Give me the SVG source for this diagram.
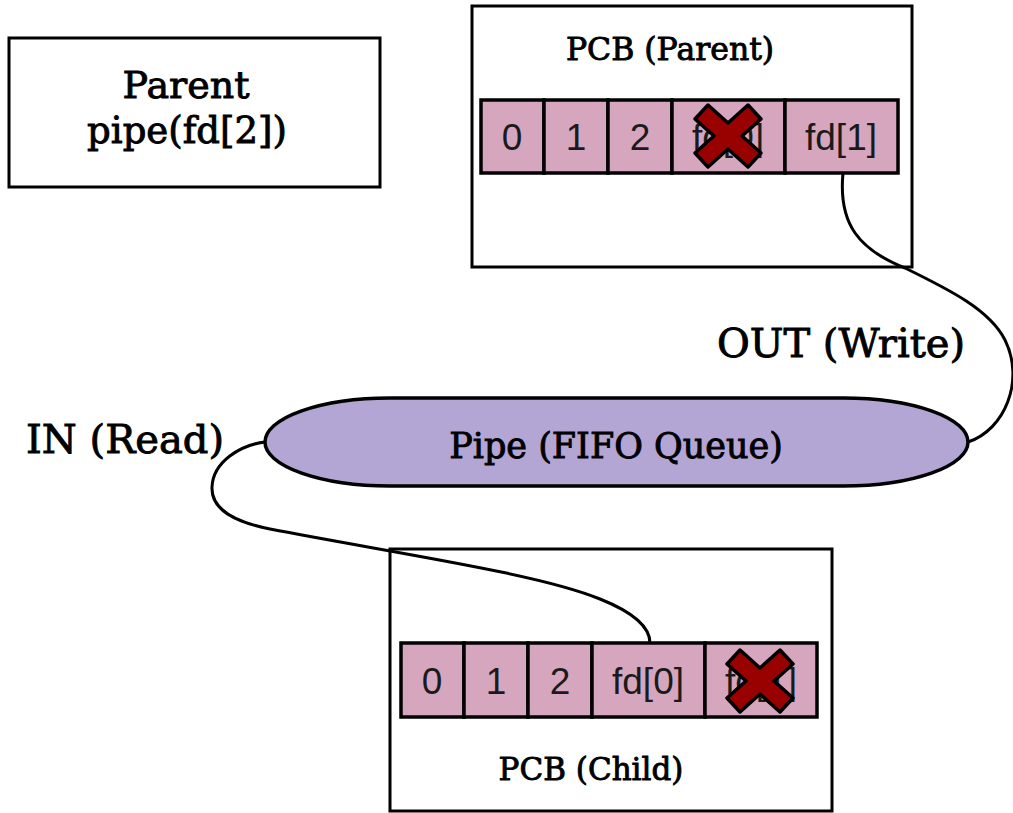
<svg xmlns="http://www.w3.org/2000/svg" width="1013" height="813" viewBox="0 0 1013 813">
<style>
.box{fill:#fff;stroke:#000;stroke-width:3}
.cell{fill:#d6a6be;stroke:#000;stroke-width:3.5}
.ct{font-family:"Liberation Sans",Arial,sans-serif;font-size:37px;fill:#1a1a1a;text-anchor:middle}
.lbl{font-family:"DejaVu Serif","Liberation Serif",serif;fill:#000;stroke:#000;stroke-width:0.9;text-anchor:middle}
.x{fill:#990000;stroke:#000;stroke-width:3.5;stroke-linejoin:round}
.conn{fill:none;stroke:#000;stroke-width:3}
</style>
<defs>
<polygon id="xmark" points="-33,-17 -20,-31 0,-13 20,-31 33,-17 14,0 33,17 20,31 0,13 -20,31 -33,17 -14,0"/>
</defs>
<g id="parent">
<rect class="box" x="9" y="38" width="371" height="149"/>
<text class="lbl" x="186" y="98" font-size="38">Parent</text>
<text class="lbl" x="187" y="143" font-size="37">pipe(fd[2])</text>
</g>
<g id="pcb-parent">
<rect class="box" x="472" y="6" width="440" height="261"/>
<text class="lbl" x="670" y="60" font-size="31.5">PCB (Parent)</text>
<rect class="cell" x="481" y="100" width="63" height="73"/>
<rect class="cell" x="544" y="100" width="64" height="73"/>
<rect class="cell" x="608" y="100" width="64" height="73"/>
<rect class="cell" x="672" y="100" width="113" height="73"/>
<rect class="cell" x="785" y="100" width="113" height="73"/>
<text class="ct" x="512" y="150">0</text>
<text class="ct" x="576" y="150">1</text>
<text class="ct" x="640" y="150">2</text>
<text class="ct" x="728" y="150">fd[0]</text>
<text class="ct" x="841" y="150">fd[1]</text>
<use href="#xmark" class="x" transform="translate(728,136)"/>
</g>
<g id="pipe">
<rect x="265" y="398" width="703" height="88" rx="125" ry="44" fill="#b3a6d4" stroke="#000" stroke-width="3.5"/>
<text class="lbl" x="616" y="458" font-size="35">Pipe (FIFO Queue)</text>
</g>
<g id="pcb-child">
<rect class="box" x="390" y="549" width="442" height="262"/>
<text class="lbl" x="591" y="780" font-size="31">PCB (Child)</text>
<rect class="cell" x="401" y="643" width="63" height="74"/>
<rect class="cell" x="464" y="643" width="64" height="74"/>
<rect class="cell" x="528" y="643" width="64" height="74"/>
<rect class="cell" x="592" y="643" width="113" height="74"/>
<rect class="cell" x="705" y="643" width="112" height="74"/>
<text class="ct" x="432" y="694">0</text>
<text class="ct" x="496" y="694">1</text>
<text class="ct" x="560" y="694">2</text>
<text class="ct" x="648" y="694">fd[0]</text>
<text class="ct" x="761" y="694">fd[1]</text>
<use href="#xmark" class="x" transform="translate(760,681)"/>
</g>
<g id="connectors">
<path class="conn" d="M843,173 C838,225 860,250 905,268 C950,290 990,310 1005,340 C1025,380 1005,430 968,442"/>
<path class="conn" d="M265,442 C240,445 213,462 212,487 C211,510 235,522 270,529 C400,554 540,574 600,599 C640,615 650,630 650,643"/>
<text class="lbl" x="841" y="357" font-size="40">OUT (Write)</text>
<text class="lbl" x="125" y="453" font-size="40">IN (Read)</text>
</g>
</svg>
